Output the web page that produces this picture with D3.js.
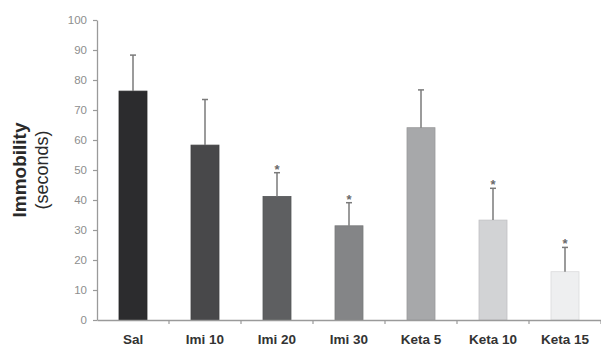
<!DOCTYPE html>
<html lang="en">
<head>
  <meta charset="UTF-8">
  <title>Immobility</title>
  <script src="https://d3js.org/d3.v7.min.js"></script>
  <style>
    body { margin: 0; background: #fff; }
    svg { display: block; }
  </style>
</head>
<body>
  <script>
    var groups = ["Sal", "Imi 10", "Imi 20", "Imi 30", "Keta 5", "Keta 10", "Keta 15"];
    var means = [76.3, 58.3, 41.2, 31.4, 64.1, 33.3, 16.1];
    var errors = [12.0, 15.2, 7.9, 7.7, 12.6, 10.6, 8.1];
    var starred = [false, false, true, true, false, true, true];
    var colors = ["#2c2c2e", "#48484a", "#5e5f61", "#848587", "#a7a8aa", "#d2d3d5", "#eeeff0"];
    var yTicks = [0, 10, 20, 30, 40, 50, 60, 70, 80, 90, 100];

    var width = 601, height = 348;
    var svg = d3.select("body").append("svg")
      .attr("width", width)
      .attr("height", height);

    var x = d3.scaleBand().domain(groups).range([97, 601]).paddingInner(0).paddingOuter(0);
    var y = d3.scaleLinear().domain([0, 100]).range([320, 20]);
    var barW = 28;

    // y axis
    var yAxis = svg.append("g")
      .attr("transform", "translate(97,0)")
      .call(d3.axisLeft(y).tickValues(yTicks).tickSize(4).tickSizeOuter(0));
    yAxis.select(".domain").attr("stroke", "#9a9a9a").attr("stroke-width", 1.3);
    yAxis.selectAll(".tick line").attr("stroke", "#9a9a9a").attr("stroke-width", 1.2);
    yAxis.selectAll(".tick text")
      .attr("x", -10)
      .attr("fill", "#8e8e8e")
      .style("font-family", "'Liberation Sans', Arial, sans-serif")
      .style("font-size", "11.5px");

    // bars
    svg.selectAll(".bar")
      .data(groups)
      .join("rect")
      .attr("class", "bar")
      .attr("x", function(d) { return x(d) + x.bandwidth() / 2 - barW / 2; })
      .attr("width", barW)
      .attr("y", function(d, i) { return y(means[i]); })
      .attr("height", function(d, i) { return y(0) - y(means[i]); })
      .attr("fill", function(d, i) { return colors[i]; })
      .attr("stroke", function(d, i) { return d3.color(colors[i]).darker(0.25); })
      .attr("stroke-width", 0.8);

    // error bars
    var eb = svg.selectAll(".err")
      .data(groups)
      .join("g")
      .attr("class", "err")
      .attr("transform", function(d) { return "translate(" + (x(d) + x.bandwidth() / 2) + ",0)"; });
    eb.append("line")
      .attr("y1", function(d, i) { return y(means[i]); })
      .attr("y2", function(d, i) { return y(means[i] + errors[i]); })
      .attr("stroke", "#7a7a7a")
      .attr("stroke-width", 1.5);
    eb.append("line")
      .attr("x1", -3).attr("x2", 3)
      .attr("y1", function(d, i) { return y(means[i] + errors[i]); })
      .attr("y2", function(d, i) { return y(means[i] + errors[i]); })
      .attr("stroke", "#7a7a7a")
      .attr("stroke-width", 1.5);
    eb.filter(function(d, i) { return starred[i]; })
      .append("text")
      .attr("text-anchor", "middle")
      .attr("y", function(d) { var i = groups.indexOf(d); return y(means[i] + errors[i]) + 1; })
      .attr("fill", "#6a6a6a")
      .style("font-family", "'Liberation Sans', Arial, sans-serif")
      .style("font-size", "13px")
      .style("font-weight", "bold")
      .text("*");

    // x axis
    var xAxis = svg.append("g")
      .attr("transform", "translate(0,320)")
      .call(d3.axisBottom(x).tickSize(0).tickSizeOuter(0));
    xAxis.select(".domain").attr("stroke", "#9a9a9a").attr("stroke-width", 1.3);
    xAxis.selectAll(".tick text")
      .attr("y", 0)
      .attr("dy", "24px")
      .attr("fill", "#333")
      .style("font-family", "'Liberation Sans', Arial, sans-serif")
      .style("font-size", "13.5px")
      .style("font-weight", "bold");
    // tick marks between bars
    xAxis.selectAll(".sep")
      .data(groups)
      .join("line")
      .attr("class", "sep")
      .attr("x1", function(d) { return x(d) + x.bandwidth(); })
      .attr("x2", function(d) { return x(d) + x.bandwidth(); })
      .attr("y1", 0).attr("y2", 4)
      .attr("stroke", "#9a9a9a")
      .attr("stroke-width", 1.2);

    // y label
    var yl = svg.append("g").attr("transform", "translate(26,170) rotate(-90)");
    yl.append("text")
      .attr("text-anchor", "middle")
      .attr("fill", "#2a2a2a")
      .style("font-family", "'Liberation Sans', Arial, sans-serif")
      .style("font-size", "19px")
      .style("font-weight", "bold")
      .text("Immobility");
    yl.append("text")
      .attr("text-anchor", "middle")
      .attr("y", 22)
      .attr("fill", "#2a2a2a")
      .style("font-family", "'Liberation Sans', Arial, sans-serif")
      .style("font-size", "18px")
      .text("(seconds)");
  </script>
</body>
</html>
